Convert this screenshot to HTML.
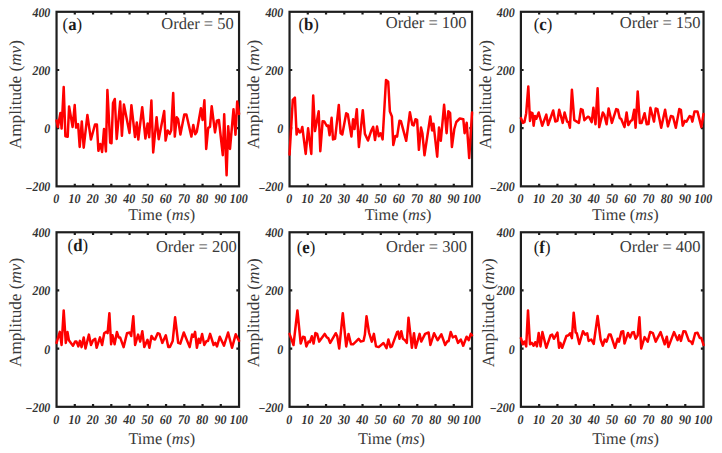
<!DOCTYPE html><html><head><meta charset="utf-8"><style>html,body{margin:0;padding:0;background:#fff;width:722px;height:453px;overflow:hidden}svg{display:block}text{font-family:"Liberation Serif",serif;text-rendering:geometricPrecision}</style></head><body>
<svg width="722" height="453" viewBox="0 0 722 453">
<rect width="722" height="453" fill="#fff"/>
<path d="M74.8 11.8 v2.7 M74.8 186.35 v-2.7 M93.05 11.8 v2.7 M93.05 186.35 v-2.7 M111.3 11.8 v2.7 M111.3 186.35 v-2.7 M129.55 11.8 v2.7 M129.55 186.35 v-2.7 M147.8 11.8 v2.7 M147.8 186.35 v-2.7 M166.05 11.8 v2.7 M166.05 186.35 v-2.7 M184.3 11.8 v2.7 M184.3 186.35 v-2.7 M202.55 11.8 v2.7 M202.55 186.35 v-2.7 M220.8 11.8 v2.7 M220.8 186.35 v-2.7 M56.55 69.98 h2.7 M239.05 69.98 h-2.7 M56.55 128.17 h2.7 M239.05 128.17 h-2.7" stroke="#1e1e1e" stroke-width="2.2" fill="none"/>
<rect x="56.55" y="11.8" width="182.5" height="174.55" fill="none" stroke="#1e1e1e" stroke-width="2.2"/>
<path d="M56.55 120.5 L57.9 127 L60.4 112.9 L61.6 128.6 L63.7 87.1 L65.4 136.3 L67.7 136.8 L69.1 106.4 L72.6 127 L74.7 105 L76.1 127.6 L78.1 124.1 L79.7 147 L81.8 121.4 L83.7 147.7 L87.4 114.9 L90.9 139.6 L95 124.5 L96.9 124.5 L98.4 150.8 L100.3 144 L102.1 152 L104 129 L105.9 151.4 L107.4 90 L110.2 142.7 L111.5 143.3 L113 103 L114.8 99 L116.7 139 L120.2 101.5 L121.9 135.8 L123.9 104.6 L129.5 133 L131.4 105.2 L135 137 L136.8 122.6 L138.3 139.6 L142.2 107.2 L145.4 138.5 L147.6 123.5 L149.2 137.3 L151.4 100.6 L153.2 152.4 L156.6 117.2 L158.7 139.2 L164.2 111 L165.6 140.6 L167.7 130.4 L169.8 133.9 L171.2 130.4 L173.2 93 L174.8 136.6 L176.7 117.2 L178.1 119.3 L180.4 134.5 L184.3 114.5 L186.4 114.5 L191.4 136.6 L193.3 124.9 L195.2 134.2 L196.8 131.8 L200.9 108.2 L202.6 120 L204.4 100.3 L206.2 148.9 L208.2 127.8 L210 126.8 L211.7 106.2 L215 132.4 L216.9 120.7 L218.9 120 L222.8 155.2 L224.2 114.2 L226.6 175.2 L228.2 126.2 L230 148.9 L233.5 109.2 L235.5 134.8 L237.2 101.6 L239.05 114" fill="none" stroke="#f00" stroke-width="2.5" stroke-linejoin="round" stroke-linecap="round"/>
<text transform="translate(50.35 16.8) scale(0.9 1)" font-size="13.3" font-weight="bold" font-style="italic" text-anchor="end" fill="#333">400</text>
<text transform="translate(50.35 74.98) scale(0.9 1)" font-size="13.3" font-weight="bold" font-style="italic" text-anchor="end" fill="#333">200</text>
<text transform="translate(50.35 133.17) scale(0.9 1)" font-size="13.3" font-weight="bold" font-style="italic" text-anchor="end" fill="#333">0</text>
<text transform="translate(50.35 191.35) scale(0.9 1)" font-size="13.3" font-weight="bold" font-style="italic" text-anchor="end" fill="#333"><tspan dy="1.6">−</tspan><tspan dy="-1.6">200</tspan></text>
<text transform="translate(56.25 203.35) scale(0.9 1)" font-size="13.3" font-weight="bold" font-style="italic" text-anchor="middle" fill="#333">0</text>
<text transform="translate(74.5 203.35) scale(0.9 1)" font-size="13.3" font-weight="bold" font-style="italic" text-anchor="middle" fill="#333">10</text>
<text transform="translate(92.75 203.35) scale(0.9 1)" font-size="13.3" font-weight="bold" font-style="italic" text-anchor="middle" fill="#333">20</text>
<text transform="translate(111 203.35) scale(0.9 1)" font-size="13.3" font-weight="bold" font-style="italic" text-anchor="middle" fill="#333">30</text>
<text transform="translate(129.25 203.35) scale(0.9 1)" font-size="13.3" font-weight="bold" font-style="italic" text-anchor="middle" fill="#333">40</text>
<text transform="translate(147.5 203.35) scale(0.9 1)" font-size="13.3" font-weight="bold" font-style="italic" text-anchor="middle" fill="#333">50</text>
<text transform="translate(165.75 203.35) scale(0.9 1)" font-size="13.3" font-weight="bold" font-style="italic" text-anchor="middle" fill="#333">60</text>
<text transform="translate(184 203.35) scale(0.9 1)" font-size="13.3" font-weight="bold" font-style="italic" text-anchor="middle" fill="#333">70</text>
<text transform="translate(202.25 203.35) scale(0.9 1)" font-size="13.3" font-weight="bold" font-style="italic" text-anchor="middle" fill="#333">80</text>
<text transform="translate(220.5 203.35) scale(0.9 1)" font-size="13.3" font-weight="bold" font-style="italic" text-anchor="middle" fill="#333">90</text>
<text transform="translate(238.75 203.35) scale(0.9 1)" font-size="13.3" font-weight="bold" font-style="italic" text-anchor="middle" fill="#333">100</text>
<text x="128.35" y="219.7" font-size="16.3" fill="#3a3a3a">Time (<tspan font-style="italic">ms</tspan>)</text>
<text transform="translate(21 94.6) rotate(-90)" font-size="17.15" text-anchor="middle" fill="#3a3a3a">Amplitude (<tspan font-style="italic">mv</tspan>)</text>
<text transform="translate(62.6 29.9) scale(0.95 1)" font-size="17.6" fill="#1a1a1a">(<tspan font-weight="bold">a</tspan>)</text>
<text x="233.8" y="28.6" font-size="16.5" text-anchor="end" fill="#3a3a3a">Order = 50</text>
<path d="M307.79 11.8 v2.7 M307.79 186.35 v-2.7 M326.04 11.8 v2.7 M326.04 186.35 v-2.7 M344.29 11.8 v2.7 M344.29 186.35 v-2.7 M362.54 11.8 v2.7 M362.54 186.35 v-2.7 M380.79 11.8 v2.7 M380.79 186.35 v-2.7 M399.04 11.8 v2.7 M399.04 186.35 v-2.7 M417.29 11.8 v2.7 M417.29 186.35 v-2.7 M435.54 11.8 v2.7 M435.54 186.35 v-2.7 M453.79 11.8 v2.7 M453.79 186.35 v-2.7 M289.54 69.98 h2.7 M472.04 69.98 h-2.7 M289.54 128.17 h2.7 M472.04 128.17 h-2.7" stroke="#1e1e1e" stroke-width="2.2" fill="none"/>
<rect x="289.54" y="11.8" width="182.5" height="174.55" fill="none" stroke="#1e1e1e" stroke-width="2.2"/>
<path d="M289.54 154.6 L292.8 99.8 L294.9 97.7 L296.6 134.5 L298 129 L299.8 132.5 L301.2 131.1 L302.3 126.9 L305.7 153.9 L308.1 128.3 L311.3 153.9 L313.2 95.6 L315 131.1 L318.7 111.3 L320.3 151.2 L322.6 121.3 L324.3 121.5 L326.8 126 L328.2 125.5 L329.6 135.2 L331.6 117.8 L333 139.4 L335.1 138.7 L338.8 104.9 L340.6 133.2 L342.3 134.5 L346.2 113.2 L347.8 114.3 L351.4 136.6 L353.1 119.2 L354.5 129 L356.8 109.2 L358.9 147 L362.8 110.2 L364.9 133.9 L368 140.5 L371.1 131.1 L373.2 126.9 L375 140.1 L377 126.6 L378.8 136.2 L380.6 133.2 L382.6 139.4 L386 80 L388.2 81.8 L389.9 111.6 L391.9 116.4 L393.3 144.9 L395.4 135.9 L397.1 136.6 L399.5 120.7 L400.9 121.2 L406.2 140.8 L409.9 112.2 L412.3 124.8 L413.7 125.5 L415.5 119.2 L417.1 119.9 L418.9 149.8 L421 127.6 L422.4 133.2 L424.5 155.3 L430.3 116.4 L432.1 130.4 L433.5 123.8 L437.2 156.7 L439 127.6 L440.8 140.8 L444.1 104.8 L446.6 133.2 L448.3 111.3 L450.1 112.9 L451.9 147 L454.3 129 L456.3 122 L459.8 118.5 L463.3 119.2 L464.6 133.2 L466.7 122.8 L469.2 158.1 L472.03 112.5" fill="none" stroke="#f00" stroke-width="2.5" stroke-linejoin="round" stroke-linecap="round"/>
<text transform="translate(283.34 16.8) scale(0.9 1)" font-size="13.3" font-weight="bold" font-style="italic" text-anchor="end" fill="#333">400</text>
<text transform="translate(283.34 74.98) scale(0.9 1)" font-size="13.3" font-weight="bold" font-style="italic" text-anchor="end" fill="#333">200</text>
<text transform="translate(283.34 133.17) scale(0.9 1)" font-size="13.3" font-weight="bold" font-style="italic" text-anchor="end" fill="#333">0</text>
<text transform="translate(283.34 191.35) scale(0.9 1)" font-size="13.3" font-weight="bold" font-style="italic" text-anchor="end" fill="#333"><tspan dy="1.6">−</tspan><tspan dy="-1.6">200</tspan></text>
<text transform="translate(289.24 203.35) scale(0.9 1)" font-size="13.3" font-weight="bold" font-style="italic" text-anchor="middle" fill="#333">0</text>
<text transform="translate(307.49 203.35) scale(0.9 1)" font-size="13.3" font-weight="bold" font-style="italic" text-anchor="middle" fill="#333">10</text>
<text transform="translate(325.74 203.35) scale(0.9 1)" font-size="13.3" font-weight="bold" font-style="italic" text-anchor="middle" fill="#333">20</text>
<text transform="translate(343.99 203.35) scale(0.9 1)" font-size="13.3" font-weight="bold" font-style="italic" text-anchor="middle" fill="#333">30</text>
<text transform="translate(362.24 203.35) scale(0.9 1)" font-size="13.3" font-weight="bold" font-style="italic" text-anchor="middle" fill="#333">40</text>
<text transform="translate(380.49 203.35) scale(0.9 1)" font-size="13.3" font-weight="bold" font-style="italic" text-anchor="middle" fill="#333">50</text>
<text transform="translate(398.74 203.35) scale(0.9 1)" font-size="13.3" font-weight="bold" font-style="italic" text-anchor="middle" fill="#333">60</text>
<text transform="translate(416.99 203.35) scale(0.9 1)" font-size="13.3" font-weight="bold" font-style="italic" text-anchor="middle" fill="#333">70</text>
<text transform="translate(435.24 203.35) scale(0.9 1)" font-size="13.3" font-weight="bold" font-style="italic" text-anchor="middle" fill="#333">80</text>
<text transform="translate(453.49 203.35) scale(0.9 1)" font-size="13.3" font-weight="bold" font-style="italic" text-anchor="middle" fill="#333">90</text>
<text transform="translate(471.74 203.35) scale(0.9 1)" font-size="13.3" font-weight="bold" font-style="italic" text-anchor="middle" fill="#333">100</text>
<text x="364.65" y="219.7" font-size="16.3" fill="#3a3a3a">Time (<tspan font-style="italic">ms</tspan>)</text>
<text transform="translate(258.5 94.4) rotate(-90)" font-size="17.15" text-anchor="middle" fill="#3a3a3a">Amplitude (<tspan font-style="italic">mv</tspan>)</text>
<text transform="translate(298.5 29.9) scale(0.95 1)" font-size="17.6" fill="#1a1a1a">(<tspan font-weight="bold">b</tspan>)</text>
<text x="466.6" y="28.1" font-size="16.5" text-anchor="end" fill="#3a3a3a">Order = 100</text>
<path d="M539.16 11.8 v2.7 M539.16 186.35 v-2.7 M557.43 11.8 v2.7 M557.43 186.35 v-2.7 M575.69 11.8 v2.7 M575.69 186.35 v-2.7 M593.96 11.8 v2.7 M593.96 186.35 v-2.7 M612.22 11.8 v2.7 M612.22 186.35 v-2.7 M630.48 11.8 v2.7 M630.48 186.35 v-2.7 M648.75 11.8 v2.7 M648.75 186.35 v-2.7 M667.01 11.8 v2.7 M667.01 186.35 v-2.7 M685.28 11.8 v2.7 M685.28 186.35 v-2.7 M520.9 69.98 h2.7 M703.54 69.98 h-2.7 M520.9 128.17 h2.7 M703.54 128.17 h-2.7" stroke="#1e1e1e" stroke-width="2.2" fill="none"/>
<rect x="520.9" y="11.8" width="182.64" height="174.55" fill="none" stroke="#1e1e1e" stroke-width="2.2"/>
<path d="M520.9 118.1 L523 122.9 L524.4 122.2 L526.2 113.2 L528.3 86.6 L530 120.9 L531.1 112.5 L532.5 113.2 L533.6 125.7 L535 116 L536.3 118.8 L538.7 112.5 L542.2 125.7 L546.3 114.6 L548.1 125 L553.2 110.5 L555.3 121.6 L557.4 120.9 L559.2 109.8 L562.7 122.9 L564.6 112.5 L567.1 121.6 L568.5 122.2 L569.9 127.8 L571.9 89.7 L574.3 120.2 L576.8 121.6 L578.9 122.9 L580.9 109.1 L582.6 109.8 L584.4 120.2 L587.9 116.7 L589.3 117.4 L591.7 122.2 L593.4 107.7 L595.5 124.3 L597.6 88.3 L599.2 127.1 L602.8 112.5 L604.2 114.6 L606.6 124.3 L608.6 108.4 L611.9 122.9 L616.2 109.1 L617.8 109.6 L619.7 118.1 L621.1 118.8 L624.5 127.1 L626.6 112.5 L628.3 125 L630.8 120.9 L632.2 120.2 L634.2 109.8 L635.6 127.8 L637.7 91.4 L639.8 122.9 L641.6 122.9 L644.6 113.2 L646.7 124.3 L648.5 124 L650.4 107.7 L654 121.6 L655.7 108.4 L657.4 109.1 L661.2 127.8 L665.1 109.8 L667.9 126.4 L670.9 116 L673 116.7 L675.8 127.8 L679.3 109.1 L680.9 109.8 L682.7 125.7 L684.8 120.9 L686.5 121.6 L689.6 116 L691 116.7 L692.4 121.6 L694.5 111.6 L697.5 111.6 L701.4 127.1 L703.54 113.9" fill="none" stroke="#f00" stroke-width="2.5" stroke-linejoin="round" stroke-linecap="round"/>
<text transform="translate(514.7 16.8) scale(0.9 1)" font-size="13.3" font-weight="bold" font-style="italic" text-anchor="end" fill="#333">400</text>
<text transform="translate(514.7 74.98) scale(0.9 1)" font-size="13.3" font-weight="bold" font-style="italic" text-anchor="end" fill="#333">200</text>
<text transform="translate(514.7 133.17) scale(0.9 1)" font-size="13.3" font-weight="bold" font-style="italic" text-anchor="end" fill="#333">0</text>
<text transform="translate(514.7 191.35) scale(0.9 1)" font-size="13.3" font-weight="bold" font-style="italic" text-anchor="end" fill="#333"><tspan dy="1.6">−</tspan><tspan dy="-1.6">200</tspan></text>
<text transform="translate(520.6 203.35) scale(0.9 1)" font-size="13.3" font-weight="bold" font-style="italic" text-anchor="middle" fill="#333">0</text>
<text transform="translate(538.86 203.35) scale(0.9 1)" font-size="13.3" font-weight="bold" font-style="italic" text-anchor="middle" fill="#333">10</text>
<text transform="translate(557.13 203.35) scale(0.9 1)" font-size="13.3" font-weight="bold" font-style="italic" text-anchor="middle" fill="#333">20</text>
<text transform="translate(575.39 203.35) scale(0.9 1)" font-size="13.3" font-weight="bold" font-style="italic" text-anchor="middle" fill="#333">30</text>
<text transform="translate(593.66 203.35) scale(0.9 1)" font-size="13.3" font-weight="bold" font-style="italic" text-anchor="middle" fill="#333">40</text>
<text transform="translate(611.92 203.35) scale(0.9 1)" font-size="13.3" font-weight="bold" font-style="italic" text-anchor="middle" fill="#333">50</text>
<text transform="translate(630.18 203.35) scale(0.9 1)" font-size="13.3" font-weight="bold" font-style="italic" text-anchor="middle" fill="#333">60</text>
<text transform="translate(648.45 203.35) scale(0.9 1)" font-size="13.3" font-weight="bold" font-style="italic" text-anchor="middle" fill="#333">70</text>
<text transform="translate(666.71 203.35) scale(0.9 1)" font-size="13.3" font-weight="bold" font-style="italic" text-anchor="middle" fill="#333">80</text>
<text transform="translate(684.98 203.35) scale(0.9 1)" font-size="13.3" font-weight="bold" font-style="italic" text-anchor="middle" fill="#333">90</text>
<text transform="translate(703.24 203.35) scale(0.9 1)" font-size="13.3" font-weight="bold" font-style="italic" text-anchor="middle" fill="#333">100</text>
<text x="591.95" y="219.7" font-size="16.3" fill="#3a3a3a">Time (<tspan font-style="italic">ms</tspan>)</text>
<text transform="translate(490.9 94.5) rotate(-90)" font-size="17.15" text-anchor="middle" fill="#3a3a3a">Amplitude (<tspan font-style="italic">mv</tspan>)</text>
<text transform="translate(533.8 29.8) scale(0.95 1)" font-size="17.6" fill="#1a1a1a">(<tspan font-weight="bold">c</tspan>)</text>
<text x="700.6" y="28.1" font-size="16.5" text-anchor="end" fill="#3a3a3a">Order = 150</text>
<path d="M74.8 232.27 v2.7 M74.8 406.82 v-2.7 M93.05 232.27 v2.7 M93.05 406.82 v-2.7 M111.3 232.27 v2.7 M111.3 406.82 v-2.7 M129.55 232.27 v2.7 M129.55 406.82 v-2.7 M147.8 232.27 v2.7 M147.8 406.82 v-2.7 M166.05 232.27 v2.7 M166.05 406.82 v-2.7 M184.3 232.27 v2.7 M184.3 406.82 v-2.7 M202.55 232.27 v2.7 M202.55 406.82 v-2.7 M220.8 232.27 v2.7 M220.8 406.82 v-2.7 M56.55 290.45 h2.7 M239.05 290.45 h-2.7 M56.55 348.64 h2.7 M239.05 348.64 h-2.7" stroke="#1e1e1e" stroke-width="2.2" fill="none"/>
<rect x="56.55" y="232.27" width="182.5" height="174.55" fill="none" stroke="#1e1e1e" stroke-width="2.2"/>
<path d="M56.55 342.9 L59.8 331.9 L61.6 345 L63.7 310.4 L65.8 342.9 L67.5 332.1 L68.9 340.2 L70.9 342.9 L73 345.7 L75.1 341.6 L76.5 341.6 L78.3 346.4 L79.9 340.9 L81.6 347.1 L83.7 337.4 L85.5 348.5 L88.9 334.6 L91 345 L93.1 340.2 L95.2 338.8 L96.6 347.8 L100 337.4 L102.1 345 L104.2 333.2 L106.2 331.9 L107.6 333.2 L109.4 313.2 L111.1 344.3 L112.5 335.3 L114.6 344.3 L116.9 331.9 L118.7 337.4 L120.1 337.4 L123.6 347.1 L127 333.2 L129.8 332.5 L131.2 336 L133.3 316.3 L135.1 345 L138.1 334.6 L140.2 341.6 L142.3 331.2 L144.3 347.1 L147.5 339.8 L149.4 347.8 L151.5 336 L153.3 338.8 L155 339.5 L157.7 333.2 L159.5 333.9 L162.3 342.9 L165.8 335.3 L168.3 347.1 L169.9 347.1 L172.7 340.9 L175.1 317.3 L178.2 342.9 L180.3 343.6 L183.8 332.5 L189.7 347.1 L192.1 334.6 L193.5 336.7 L195.1 331.9 L196.9 347.8 L198.7 338.8 L200.1 342.9 L202.1 333.9 L204.3 345 L206.6 340.9 L208 340.9 L210.1 333.9 L213.6 345 L215.4 342.9 L217 346.4 L219.8 336.7 L224 345.7 L228.1 332.5 L232 347.8 L235.7 334.3 L239.05 340.9" fill="none" stroke="#f00" stroke-width="2.5" stroke-linejoin="round" stroke-linecap="round"/>
<text transform="translate(50.35 237.27) scale(0.9 1)" font-size="13.3" font-weight="bold" font-style="italic" text-anchor="end" fill="#333">400</text>
<text transform="translate(50.35 295.45) scale(0.9 1)" font-size="13.3" font-weight="bold" font-style="italic" text-anchor="end" fill="#333">200</text>
<text transform="translate(50.35 353.64) scale(0.9 1)" font-size="13.3" font-weight="bold" font-style="italic" text-anchor="end" fill="#333">0</text>
<text transform="translate(50.35 411.82) scale(0.9 1)" font-size="13.3" font-weight="bold" font-style="italic" text-anchor="end" fill="#333"><tspan dy="1.6">−</tspan><tspan dy="-1.6">200</tspan></text>
<text transform="translate(56.25 423.82) scale(0.9 1)" font-size="13.3" font-weight="bold" font-style="italic" text-anchor="middle" fill="#333">0</text>
<text transform="translate(74.5 423.82) scale(0.9 1)" font-size="13.3" font-weight="bold" font-style="italic" text-anchor="middle" fill="#333">10</text>
<text transform="translate(92.75 423.82) scale(0.9 1)" font-size="13.3" font-weight="bold" font-style="italic" text-anchor="middle" fill="#333">20</text>
<text transform="translate(111 423.82) scale(0.9 1)" font-size="13.3" font-weight="bold" font-style="italic" text-anchor="middle" fill="#333">30</text>
<text transform="translate(129.25 423.82) scale(0.9 1)" font-size="13.3" font-weight="bold" font-style="italic" text-anchor="middle" fill="#333">40</text>
<text transform="translate(147.5 423.82) scale(0.9 1)" font-size="13.3" font-weight="bold" font-style="italic" text-anchor="middle" fill="#333">50</text>
<text transform="translate(165.75 423.82) scale(0.9 1)" font-size="13.3" font-weight="bold" font-style="italic" text-anchor="middle" fill="#333">60</text>
<text transform="translate(184 423.82) scale(0.9 1)" font-size="13.3" font-weight="bold" font-style="italic" text-anchor="middle" fill="#333">70</text>
<text transform="translate(202.25 423.82) scale(0.9 1)" font-size="13.3" font-weight="bold" font-style="italic" text-anchor="middle" fill="#333">80</text>
<text transform="translate(220.5 423.82) scale(0.9 1)" font-size="13.3" font-weight="bold" font-style="italic" text-anchor="middle" fill="#333">90</text>
<text transform="translate(238.75 423.82) scale(0.9 1)" font-size="13.3" font-weight="bold" font-style="italic" text-anchor="middle" fill="#333">100</text>
<text x="128.45" y="443.6" font-size="16.3" fill="#3a3a3a">Time (<tspan font-style="italic">ms</tspan>)</text>
<text transform="translate(21 312.4) rotate(-90)" font-size="17.15" text-anchor="middle" fill="#3a3a3a">Amplitude (<tspan font-style="italic">mv</tspan>)</text>
<text transform="translate(67.6 251.1) scale(0.95 1)" font-size="17.6" fill="#1a1a1a">(<tspan font-weight="bold">d</tspan>)</text>
<text x="236.7" y="251.5" font-size="16.5" text-anchor="end" fill="#3a3a3a">Order = 200</text>
<path d="M307.79 232.27 v2.7 M307.79 406.82 v-2.7 M326.04 232.27 v2.7 M326.04 406.82 v-2.7 M344.29 232.27 v2.7 M344.29 406.82 v-2.7 M362.54 232.27 v2.7 M362.54 406.82 v-2.7 M380.79 232.27 v2.7 M380.79 406.82 v-2.7 M399.04 232.27 v2.7 M399.04 406.82 v-2.7 M417.29 232.27 v2.7 M417.29 406.82 v-2.7 M435.54 232.27 v2.7 M435.54 406.82 v-2.7 M453.79 232.27 v2.7 M453.79 406.82 v-2.7 M289.54 290.45 h2.7 M472.04 290.45 h-2.7 M289.54 348.64 h2.7 M472.04 348.64 h-2.7" stroke="#1e1e1e" stroke-width="2.2" fill="none"/>
<rect x="289.54" y="232.27" width="182.5" height="174.55" fill="none" stroke="#1e1e1e" stroke-width="2.2"/>
<path d="M289.54 333.9 L293.5 345 L297.4 310.4 L300.7 343.6 L303 336.7 L304.6 337.1 L306.3 346.4 L308.5 341.6 L309.9 342.2 L311.8 336.3 L313.6 343.6 L315.4 333 L317.1 333.9 L319.2 341.6 L324.7 333.9 L326.8 337.4 L328.2 338.1 L330.2 342.9 L335.8 333.2 L337.2 336 L339.2 348.5 L342.8 313.2 L346.2 346.4 L348.5 333.9 L351 344.3 L353.1 344.3 L355.9 341.6 L358.6 338.8 L360.7 341.6 L363.5 340.9 L364.9 334.6 L366.5 316.3 L369 332.5 L371.8 341.6 L373.9 333.9 L376 346.4 L378.7 347.1 L383.5 343 L386.5 348.2 L388.4 339.5 L390.5 347.1 L391.9 346.4 L397.1 332.1 L398.1 331.6 L399.5 338.8 L401.3 331.2 L402.9 338.8 L405 340.2 L406.8 342.9 L408.5 317.7 L411.9 347.8 L414 333.2 L415.7 347.8 L419.6 333.9 L421.2 341.6 L425.1 333.9 L428.6 332.5 L430.4 345 L434.1 333.2 L437.6 340.2 L441.4 334.3 L445.2 345 L447.3 341.3 L448.6 341.3 L450.7 331.9 L452.8 337.4 L455.6 336 L458 342.9 L460.8 339.5 L463.2 345.7 L466.6 336.7 L468.7 340.2 L470.8 333.9 L472.03 335.3" fill="none" stroke="#f00" stroke-width="2.5" stroke-linejoin="round" stroke-linecap="round"/>
<text transform="translate(283.34 237.27) scale(0.9 1)" font-size="13.3" font-weight="bold" font-style="italic" text-anchor="end" fill="#333">400</text>
<text transform="translate(283.34 295.45) scale(0.9 1)" font-size="13.3" font-weight="bold" font-style="italic" text-anchor="end" fill="#333">200</text>
<text transform="translate(283.34 353.64) scale(0.9 1)" font-size="13.3" font-weight="bold" font-style="italic" text-anchor="end" fill="#333">0</text>
<text transform="translate(283.34 411.82) scale(0.9 1)" font-size="13.3" font-weight="bold" font-style="italic" text-anchor="end" fill="#333"><tspan dy="1.6">−</tspan><tspan dy="-1.6">200</tspan></text>
<text transform="translate(289.24 423.82) scale(0.9 1)" font-size="13.3" font-weight="bold" font-style="italic" text-anchor="middle" fill="#333">0</text>
<text transform="translate(307.49 423.82) scale(0.9 1)" font-size="13.3" font-weight="bold" font-style="italic" text-anchor="middle" fill="#333">10</text>
<text transform="translate(325.74 423.82) scale(0.9 1)" font-size="13.3" font-weight="bold" font-style="italic" text-anchor="middle" fill="#333">20</text>
<text transform="translate(343.99 423.82) scale(0.9 1)" font-size="13.3" font-weight="bold" font-style="italic" text-anchor="middle" fill="#333">30</text>
<text transform="translate(362.24 423.82) scale(0.9 1)" font-size="13.3" font-weight="bold" font-style="italic" text-anchor="middle" fill="#333">40</text>
<text transform="translate(380.49 423.82) scale(0.9 1)" font-size="13.3" font-weight="bold" font-style="italic" text-anchor="middle" fill="#333">50</text>
<text transform="translate(398.74 423.82) scale(0.9 1)" font-size="13.3" font-weight="bold" font-style="italic" text-anchor="middle" fill="#333">60</text>
<text transform="translate(416.99 423.82) scale(0.9 1)" font-size="13.3" font-weight="bold" font-style="italic" text-anchor="middle" fill="#333">70</text>
<text transform="translate(435.24 423.82) scale(0.9 1)" font-size="13.3" font-weight="bold" font-style="italic" text-anchor="middle" fill="#333">80</text>
<text transform="translate(453.49 423.82) scale(0.9 1)" font-size="13.3" font-weight="bold" font-style="italic" text-anchor="middle" fill="#333">90</text>
<text transform="translate(471.74 423.82) scale(0.9 1)" font-size="13.3" font-weight="bold" font-style="italic" text-anchor="middle" fill="#333">100</text>
<text x="358.05" y="443.6" font-size="16.3" fill="#3a3a3a">Time (<tspan font-style="italic">ms</tspan>)</text>
<text transform="translate(258.5 312.8) rotate(-90)" font-size="17.15" text-anchor="middle" fill="#3a3a3a">Amplitude (<tspan font-style="italic">mv</tspan>)</text>
<text transform="translate(296.8 253.1) scale(0.95 1)" font-size="17.6" fill="#1a1a1a">(<tspan font-weight="bold">e</tspan>)</text>
<text x="466.9" y="251.8" font-size="16.5" text-anchor="end" fill="#3a3a3a">Order = 300</text>
<path d="M539.16 232.27 v2.7 M539.16 406.82 v-2.7 M557.43 232.27 v2.7 M557.43 406.82 v-2.7 M575.69 232.27 v2.7 M575.69 406.82 v-2.7 M593.96 232.27 v2.7 M593.96 406.82 v-2.7 M612.22 232.27 v2.7 M612.22 406.82 v-2.7 M630.48 232.27 v2.7 M630.48 406.82 v-2.7 M648.75 232.27 v2.7 M648.75 406.82 v-2.7 M667.01 232.27 v2.7 M667.01 406.82 v-2.7 M685.28 232.27 v2.7 M685.28 406.82 v-2.7 M520.9 290.45 h2.7 M703.54 290.45 h-2.7 M520.9 348.64 h2.7 M703.54 348.64 h-2.7" stroke="#1e1e1e" stroke-width="2.2" fill="none"/>
<rect x="520.9" y="232.27" width="182.64" height="174.55" fill="none" stroke="#1e1e1e" stroke-width="2.2"/>
<path d="M520.9 338.1 L522.8 344.3 L524.4 341.6 L526.2 346.4 L528 310.4 L530 344.3 L531.8 342.9 L533.6 345.7 L535.2 342.2 L536.9 346.4 L538.7 333 L540.5 346.4 L542.4 332.1 L546.3 347.8 L550.5 335.3 L552.1 334.6 L553.9 338.8 L557.4 332.5 L559.1 347.8 L560.4 342.9 L562.2 347.8 L566.4 336 L568.5 335.3 L570.1 333.2 L571.9 338.1 L573.7 312.7 L575.7 332.5 L576.8 333.2 L579.3 344 L583 331.2 L585.1 334.6 L587.2 333.2 L588.6 340.9 L591.3 339.5 L593.7 344 L597.6 315.9 L600.6 339.5 L602.8 345.7 L604.8 339.5 L606.6 341.6 L608.9 334.6 L610.7 334.6 L615 347.8 L617.6 338.8 L619 341.6 L621.4 331.6 L623.2 331.2 L624.5 343.6 L628 333 L630.1 337.4 L632.2 332.5 L633.8 332.1 L635.6 338.8 L637.7 335.3 L639.4 317.3 L641.2 348.5 L644.6 337.1 L647.7 341.6 L650.2 331.9 L652.9 333.2 L655.7 341.6 L660.6 332.1 L664.7 344.3 L666.8 336.7 L668.4 347.1 L674 332.1 L677.6 340.2 L679.3 335.3 L680.9 340.9 L683.4 331.2 L685.5 331.6 L688.9 340.9 L691 341.6 L692.4 344 L695.2 333.2 L697.5 332.7 L699.8 338.1 L701.4 338.1 L703.54 345" fill="none" stroke="#f00" stroke-width="2.5" stroke-linejoin="round" stroke-linecap="round"/>
<text transform="translate(514.7 237.27) scale(0.9 1)" font-size="13.3" font-weight="bold" font-style="italic" text-anchor="end" fill="#333">400</text>
<text transform="translate(514.7 295.45) scale(0.9 1)" font-size="13.3" font-weight="bold" font-style="italic" text-anchor="end" fill="#333">200</text>
<text transform="translate(514.7 353.64) scale(0.9 1)" font-size="13.3" font-weight="bold" font-style="italic" text-anchor="end" fill="#333">0</text>
<text transform="translate(514.7 411.82) scale(0.9 1)" font-size="13.3" font-weight="bold" font-style="italic" text-anchor="end" fill="#333"><tspan dy="1.6">−</tspan><tspan dy="-1.6">200</tspan></text>
<text transform="translate(520.6 423.82) scale(0.9 1)" font-size="13.3" font-weight="bold" font-style="italic" text-anchor="middle" fill="#333">0</text>
<text transform="translate(538.86 423.82) scale(0.9 1)" font-size="13.3" font-weight="bold" font-style="italic" text-anchor="middle" fill="#333">10</text>
<text transform="translate(557.13 423.82) scale(0.9 1)" font-size="13.3" font-weight="bold" font-style="italic" text-anchor="middle" fill="#333">20</text>
<text transform="translate(575.39 423.82) scale(0.9 1)" font-size="13.3" font-weight="bold" font-style="italic" text-anchor="middle" fill="#333">30</text>
<text transform="translate(593.66 423.82) scale(0.9 1)" font-size="13.3" font-weight="bold" font-style="italic" text-anchor="middle" fill="#333">40</text>
<text transform="translate(611.92 423.82) scale(0.9 1)" font-size="13.3" font-weight="bold" font-style="italic" text-anchor="middle" fill="#333">50</text>
<text transform="translate(630.18 423.82) scale(0.9 1)" font-size="13.3" font-weight="bold" font-style="italic" text-anchor="middle" fill="#333">60</text>
<text transform="translate(648.45 423.82) scale(0.9 1)" font-size="13.3" font-weight="bold" font-style="italic" text-anchor="middle" fill="#333">70</text>
<text transform="translate(666.71 423.82) scale(0.9 1)" font-size="13.3" font-weight="bold" font-style="italic" text-anchor="middle" fill="#333">80</text>
<text transform="translate(684.98 423.82) scale(0.9 1)" font-size="13.3" font-weight="bold" font-style="italic" text-anchor="middle" fill="#333">90</text>
<text transform="translate(703.24 423.82) scale(0.9 1)" font-size="13.3" font-weight="bold" font-style="italic" text-anchor="middle" fill="#333">100</text>
<text x="592.15" y="443.6" font-size="16.3" fill="#3a3a3a">Time (<tspan font-style="italic">ms</tspan>)</text>
<text transform="translate(493.5 312.8) rotate(-90)" font-size="17.15" text-anchor="middle" fill="#3a3a3a">Amplitude (<tspan font-style="italic">mv</tspan>)</text>
<text transform="translate(533.8 253.1) scale(0.95 1)" font-size="17.6" fill="#1a1a1a">(<tspan font-weight="bold">f</tspan>)</text>
<text x="700.6" y="251.8" font-size="16.5" text-anchor="end" fill="#3a3a3a">Order = 400</text>
</svg></body></html>
